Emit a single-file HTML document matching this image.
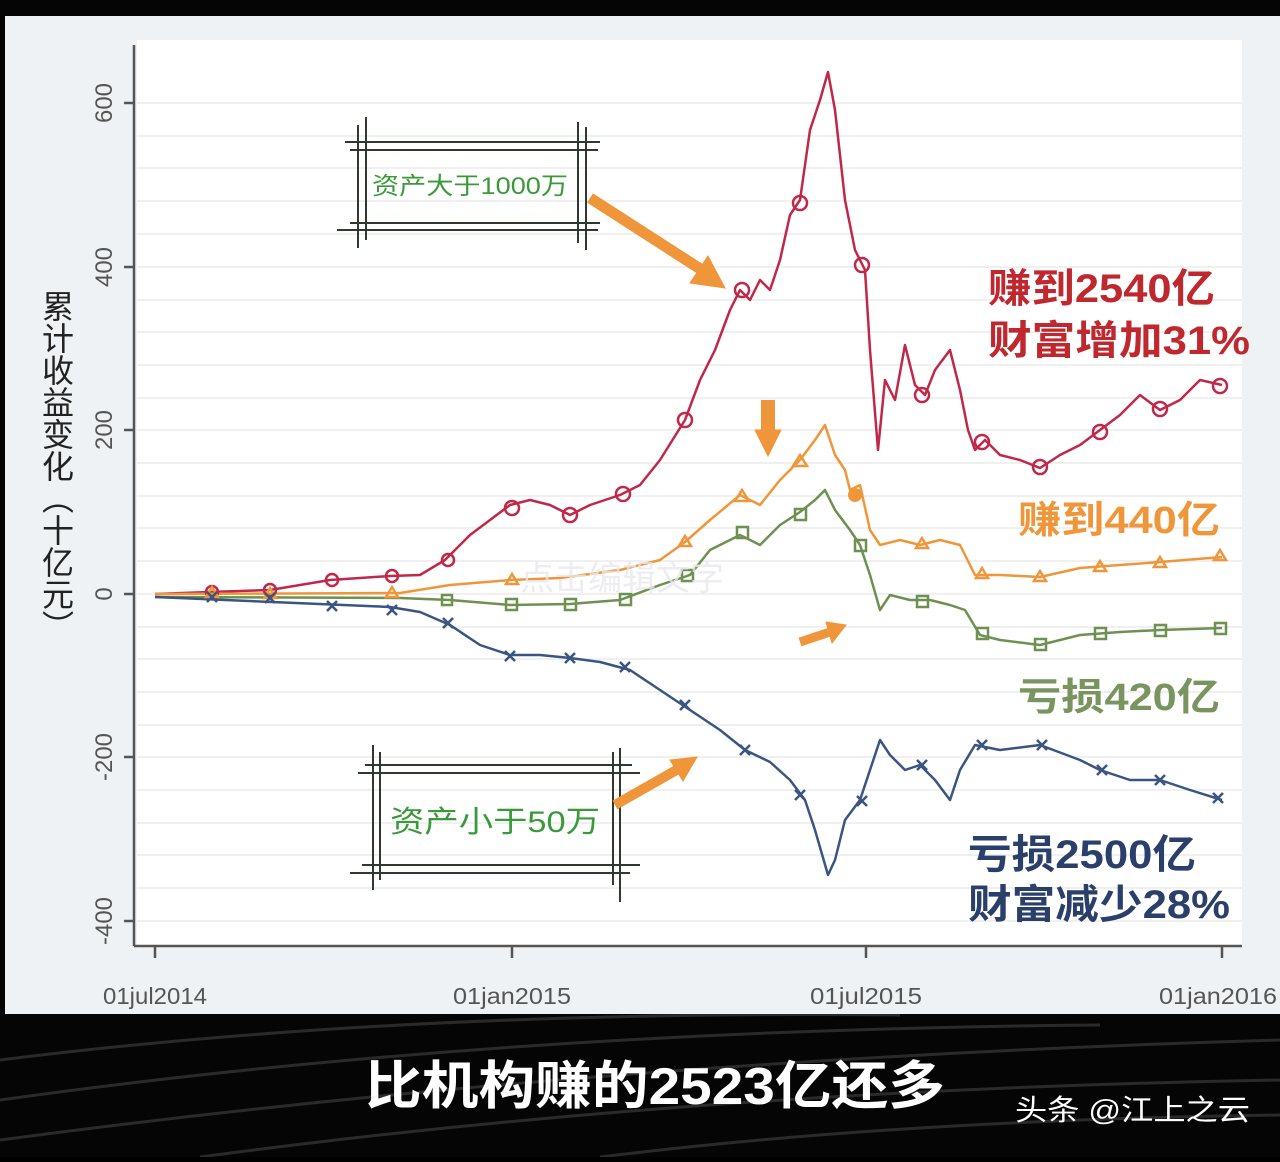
<!DOCTYPE html>
<html><head><meta charset="utf-8"><style>
body{margin:0;width:1280px;height:1157px;background:#000;overflow:hidden;font-family:"Liberation Sans","Noto Sans CJK SC",sans-serif}
</style></head><body>
<svg width="1280" height="1157" xmlns="http://www.w3.org/2000/svg" font-family="Liberation Sans, Noto Sans CJK SC, sans-serif">
<rect x="0" y="0" width="1280" height="1157" fill="#050505"/>
<g stroke="#2a2a2a" stroke-width="3" fill="none">
<path d="M0 1060 Q400 1010 900 1015"/><path d="M0 1100 Q500 1030 1100 1025"/><path d="M0 1140 Q600 1060 1280 1040"/><path d="M200 1157 Q700 1090 1280 1080"/><path d="M600 1157 Q900 1120 1280 1115"/>
</g>
<rect x="5" y="16" width="1275" height="998" fill="#eef2f4"/>
<rect x="137" y="40" width="1105" height="905" fill="#fff"/>
<g stroke="#ececec" stroke-width="1.5">
<line x1="137" y1="103" x2="1242" y2="103"/><line x1="137" y1="136" x2="1242" y2="136"/><line x1="137" y1="168" x2="1242" y2="168"/><line x1="137" y1="201" x2="1242" y2="201"/><line x1="137" y1="234" x2="1242" y2="234"/><line x1="137" y1="267" x2="1242" y2="267"/><line x1="137" y1="300" x2="1242" y2="300"/><line x1="137" y1="332" x2="1242" y2="332"/><line x1="137" y1="365" x2="1242" y2="365"/><line x1="137" y1="398" x2="1242" y2="398"/><line x1="137" y1="430" x2="1242" y2="430"/><line x1="137" y1="463" x2="1242" y2="463"/><line x1="137" y1="496" x2="1242" y2="496"/><line x1="137" y1="528" x2="1242" y2="528"/><line x1="137" y1="561" x2="1242" y2="561"/><line x1="137" y1="594" x2="1242" y2="594"/><line x1="137" y1="627" x2="1242" y2="627"/><line x1="137" y1="659" x2="1242" y2="659"/><line x1="137" y1="692" x2="1242" y2="692"/><line x1="137" y1="725" x2="1242" y2="725"/><line x1="137" y1="757" x2="1242" y2="757"/><line x1="137" y1="790" x2="1242" y2="790"/><line x1="137" y1="823" x2="1242" y2="823"/><line x1="137" y1="855" x2="1242" y2="855"/><line x1="137" y1="888" x2="1242" y2="888"/><line x1="137" y1="921" x2="1242" y2="921"/>
</g>
<g stroke="#555" stroke-width="2.5">
<line x1="134" y1="45" x2="134" y2="946"/><line x1="134" y1="946" x2="1242" y2="946"/>
<line x1="124" y1="103" x2="134" y2="103"/><line x1="124" y1="267" x2="134" y2="267"/><line x1="124" y1="430" x2="134" y2="430"/><line x1="124" y1="594" x2="134" y2="594"/><line x1="124" y1="757" x2="134" y2="757"/><line x1="124" y1="921" x2="134" y2="921"/>
<line x1="155" y1="946" x2="155" y2="958"/><line x1="512" y1="946" x2="512" y2="958"/><line x1="866" y1="946" x2="866" y2="958"/><line x1="1222" y1="946" x2="1222" y2="958"/>
</g>
<g fill="#555" font-size="24">
<text transform="translate(112,103) rotate(-90)" text-anchor="middle">600</text>
<text transform="translate(112,267) rotate(-90)" text-anchor="middle">400</text>
<text transform="translate(112,430) rotate(-90)" text-anchor="middle">200</text>
<text transform="translate(112,594) rotate(-90)" text-anchor="middle">0</text>
<text transform="translate(112,757) rotate(-90)" text-anchor="middle">-200</text>
<text transform="translate(112,921) rotate(-90)" text-anchor="middle">-400</text>
</g>
<g fill="#555" font-size="23" text-anchor="middle">
<text x="155" y="1004" textLength="104" lengthAdjust="spacingAndGlyphs">01jul2014</text><text x="512" y="1004" textLength="118" lengthAdjust="spacingAndGlyphs">01jan2015</text><text x="866" y="1004" textLength="112" lengthAdjust="spacingAndGlyphs">01jul2015</text><text x="1218" y="1004" textLength="118" lengthAdjust="spacingAndGlyphs">01jan2016</text>
</g>
<text transform="translate(56,290)" font-size="32" fill="#222" style="writing-mode:vertical-rl">累计收益变化（十亿元）</text>
<g fill="none" stroke-width="2.5" stroke-linejoin="round">
<polyline stroke="#c0284a" points="155,594 210,592 270,590 330,580 390,576 420,575 445,560 470,535 490,520 510,505 530,500 550,505 570,515 590,505 620,495 640,485 660,460 685,420 700,380 715,350 730,310 740,290 750,300 760,280 770,290 780,260 790,215 800,200 810,130 820,100 828,72 835,110 845,200 855,250 865,270 870,350 878,450 885,380 895,400 905,345 915,385 925,395 935,370 950,350 960,390 968,430 975,450 985,440 1000,455 1020,460 1040,468 1060,455 1080,445 1100,430 1120,415 1140,395 1160,410 1180,400 1200,380 1222,385"/>
<polyline stroke="#f0963a" points="155,594 400,593 450,585 510,580 560,578 620,570 660,560 685,542 710,520 740,495 760,505 780,480 800,460 815,440 825,425 835,455 845,470 850,490 860,485 870,530 880,545 900,540 920,545 940,540 960,545 975,575 1000,575 1040,577 1080,568 1120,565 1160,562 1222,557"/>
<polyline stroke="#6e9050" points="155,597 400,598 450,600 510,605 570,604 620,600 660,585 690,575 710,550 740,535 760,545 780,525 800,512 815,500 825,490 835,510 850,530 860,545 870,575 880,610 890,595 910,600 930,600 950,605 965,610 980,635 1000,640 1040,645 1080,635 1120,632 1160,630 1222,628"/>
<polyline stroke="#3a5580" points="155,597 390,607 420,612 450,625 480,645 510,655 540,655 570,658 600,662 630,670 660,690 690,710 720,730 745,750 770,762 790,780 805,800 815,830 828,875 835,860 845,820 860,800 870,770 880,740 890,755 905,770 920,765 935,780 950,800 960,770 975,745 1000,750 1040,745 1080,760 1100,770 1130,780 1160,780 1190,790 1222,800"/>
</g>
<g fill="none" stroke="#c0284a" stroke-width="2.5">
<circle cx="212" cy="592" r="6"/><circle cx="270" cy="590" r="6"/><circle cx="332" cy="580" r="6"/><circle cx="392" cy="576" r="6"/><circle cx="448" cy="560" r="6"/><circle cx="512" cy="508" r="7"/><circle cx="570" cy="515" r="7"/><circle cx="623" cy="494" r="7"/><circle cx="685" cy="420" r="7"/><circle cx="742" cy="290" r="7"/><circle cx="800" cy="203" r="7"/><circle cx="862" cy="265" r="7"/><circle cx="922" cy="395" r="7"/><circle cx="982" cy="442" r="7"/><circle cx="1040" cy="467" r="7"/><circle cx="1100" cy="432" r="7"/><circle cx="1160" cy="409" r="7"/><circle cx="1220" cy="386" r="7"/>
</g>
<g fill="none" stroke="#f0963a" stroke-width="2.5">
<path d="M212,587 l6,10 h-12z"/><path d="M270,588 l6,10 h-12z"/><path d="M392,587 l6,10 h-12z"/><path d="M512,574 l6,10 h-12z"/><path d="M685,536 l6,10 h-12z"/><path d="M742,490 l7,11 h-14z"/><path d="M800,455 l7,11 h-14z"/><path d="M922,538 l6,10 h-12z"/><path d="M982,568 l6,10 h-12z"/><path d="M1040,571 l6,10 h-12z"/><path d="M1100,561 l6,10 h-12z"/><path d="M1160,557 l6,10 h-12z"/><path d="M1220,550 l6,10 h-12z"/>
</g>
<circle cx="855" cy="495" r="7" fill="#f0963a"/>
<g fill="none" stroke="#6e9050" stroke-width="2.5">
<rect x="442" y="595" width="10" height="10"/><rect x="506" y="599" width="11" height="11"/><rect x="565" y="599" width="11" height="11"/><rect x="620" y="594" width="11" height="11"/><rect x="682" y="570" width="11" height="11"/><rect x="737" y="527" width="11" height="11"/><rect x="795" y="509" width="11" height="11"/><rect x="855" y="540" width="11" height="11"/><rect x="917" y="596" width="11" height="11"/><rect x="977" y="628" width="11" height="11"/><rect x="1035" y="639" width="11" height="11"/><rect x="1095" y="628" width="11" height="11"/><rect x="1155" y="625" width="11" height="11"/><rect x="1215" y="623" width="11" height="11"/>
</g>
<g fill="none" stroke="#3a5580" stroke-width="2.5">
<path d="M207,592 l10,10 M217,592 l-10,10"/><path d="M265,593 l10,10 M275,593 l-10,10"/><path d="M327,601 l10,10 M337,601 l-10,10"/><path d="M387,605 l10,10 M397,605 l-10,10"/><path d="M443,618 l10,10 M453,618 l-10,10"/><path d="M505,651 l10,10 M515,651 l-10,10"/><path d="M565,653 l10,10 M575,653 l-10,10"/><path d="M620,662 l10,10 M630,662 l-10,10"/><path d="M680,700 l10,10 M690,700 l-10,10"/><path d="M740,745 l10,10 M750,745 l-10,10"/><path d="M795,790 l10,10 M805,790 l-10,10"/><path d="M857,796 l10,10 M867,796 l-10,10"/><path d="M917,760 l10,10 M927,760 l-10,10"/><path d="M977,740 l10,10 M987,740 l-10,10"/><path d="M1037,740 l10,10 M1047,740 l-10,10"/><path d="M1097,765 l10,10 M1107,765 l-10,10"/><path d="M1155,775 l10,10 M1165,775 l-10,10"/><path d="M1213,793 l10,10 M1223,793 l-10,10"/>
</g>
<text x="520" y="590" font-size="34" fill="#e8e8ee" opacity="0.8">点击编辑文字</text>
<g stroke="#2e3a30" stroke-width="2">
<line x1="345" y1="142" x2="600" y2="142"/><line x1="350" y1="150" x2="598" y2="150"/><line x1="350" y1="223" x2="600" y2="223"/><line x1="337" y1="230" x2="598" y2="230"/>
<line x1="358" y1="125" x2="358" y2="248"/><line x1="366" y1="117" x2="366" y2="240"/><line x1="578" y1="122" x2="578" y2="243"/><line x1="586" y1="127" x2="586" y2="250"/>
<line x1="365" y1="765" x2="632" y2="765"/><line x1="358" y1="773" x2="640" y2="773"/><line x1="362" y1="865" x2="640" y2="865"/><line x1="350" y1="873" x2="630" y2="873"/>
<line x1="373" y1="745" x2="373" y2="890"/><line x1="380" y1="752" x2="380" y2="880"/><line x1="613" y1="752" x2="613" y2="885"/><line x1="620" y1="748" x2="620" y2="902"/>
</g>
<text x="372" y="194" font-size="24" fill="#3a9a3a" textLength="196" lengthAdjust="spacingAndGlyphs">资产大于1000万</text>
<text x="390" y="832" font-size="30" fill="#3a9a3a" textLength="210" lengthAdjust="spacingAndGlyphs">资产小于50万</text>
<g fill="#f0963a" stroke="#f0963a">
<line x1="590" y1="198" x2="705" y2="272" stroke-width="11"/><path d="M725,288 L690,283 L708,256z"/>
<line x1="615" y1="805" x2="680" y2="768" stroke-width="10"/><path d="M697,757 L670,760 L683,781z"/>
<line x1="768" y1="400" x2="768" y2="432" stroke-width="14"/><path d="M755,430 L781,430 L768,456z"/>
<line x1="800" y1="642" x2="830" y2="632" stroke-width="9"/><path d="M846,625 L826,622 L832,643z"/>
</g>
<g font-weight="bold">
<text x="988" y="302" font-size="40" fill="#c0282f" textLength="227" lengthAdjust="spacingAndGlyphs">赚到2540亿</text>
<text x="988" y="354" font-size="40" fill="#c0282f" textLength="262" lengthAdjust="spacingAndGlyphs">财富增加31%</text>
<text x="1018" y="533" font-size="38" fill="#f0963a" textLength="202" lengthAdjust="spacingAndGlyphs">赚到440亿</text>
<text x="1018" y="710" font-size="38" fill="#7a9460" textLength="202" lengthAdjust="spacingAndGlyphs">亏损420亿</text>
<text x="968" y="868" font-size="40" fill="#2a3f6a" textLength="228" lengthAdjust="spacingAndGlyphs">亏损2500亿</text>
<text x="968" y="918" font-size="40" fill="#2a3f6a" textLength="262" lengthAdjust="spacingAndGlyphs">财富减少28%</text>
</g>
<text x="365" y="1104" font-size="52" font-weight="bold" fill="#fff" textLength="580" lengthAdjust="spacingAndGlyphs">比机构赚的2523亿还多</text>
<text x="1015" y="1120" font-size="29" fill="#fff" textLength="235" lengthAdjust="spacingAndGlyphs">头条 @江上之云</text>
</svg>
</body></html>
